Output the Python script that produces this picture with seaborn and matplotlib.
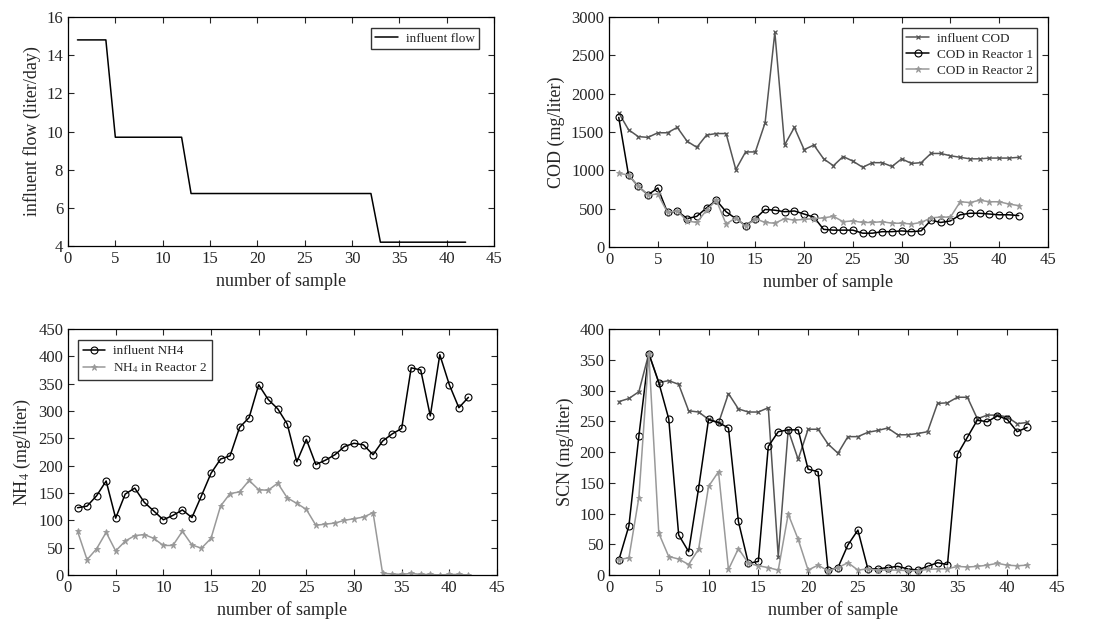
import numpy as np
import pandas as pd
import matplotlib
matplotlib.use('Agg')
import matplotlib.pyplot as plt
import seaborn as sns

sns.set_style('ticks')
plt.rcParams['font.family'] = ['Liberation Serif', 'DejaVu Serif']
plt.rcParams['mathtext.fontset'] = 'stix'

samples = list(range(1, 43))

# influent flow (liter/day)
flow = [14.8] * 4 + [9.7] * 8 + [6.75] * 20 + [4.2] * 10

# COD (mg/liter)
cod_in = [1750, 1530, 1440, 1430, 1490, 1490, 1560, 1380, 1300, 1460,
          1480, 1480, 1010, 1240, 1240, 1620, 2800, 1330, 1560, 1270,
          1330, 1150, 1060, 1180, 1120, 1040, 1100, 1100, 1050, 1150,
          1090, 1100, 1220, 1220, 1190, 1170, 1150, 1150, 1160, 1160,
          1160, 1170]
cod_r1 = [1690, 940, 790, 680, 770, 450, 470, 370, 400, 510,
          610, 460, 370, 280, 370, 490, 480, 460, 470, 430,
          390, 230, 220, 220, 220, 180, 180, 200, 200, 210,
          200, 210, 350, 320, 340, 420, 440, 440, 430, 420,
          420, 410]
cod_r2 = [960, 940, 790, 680, 690, 450, 470, 340, 320, 480,
          610, 300, 380, 270, 370, 320, 310, 370, 350, 360,
          370, 380, 400, 330, 340, 320, 320, 330, 310, 310,
          300, 320, 380, 390, 390, 590, 580, 610, 590, 590,
          560, 540]

# NH4 (mg/liter)
nh4_in = [123, 126, 145, 172, 104, 148, 159, 133, 117, 101,
          109, 119, 105, 145, 186, 212, 218, 270, 288, 348,
          321, 304, 276, 207, 248, 202, 210, 220, 235, 241,
          238, 220, 245, 258, 268, 379, 375, 291, 403, 348,
          306, 325]
nh4_r2 = [80, 28, 48, 78, 44, 62, 72, 74, 67, 54,
          54, 80, 55, 49, 67, 126, 149, 152, 173, 156,
          155, 168, 141, 131, 120, 91, 93, 95, 100, 103,
          106, 114, 3, 2, 1, 3, 1, 1, 0, 1,
          1, 0]

# SCN (mg/liter)
scn_in = [282, 287, 298, 360, 313, 316, 310, 267, 265, 253,
          247, 295, 270, 265, 265, 272, 30, 236, 188, 237,
          237, 213, 198, 225, 225, 232, 235, 239, 228, 228,
          230, 233, 279, 280, 289, 289, 254, 260, 260, 257,
          246, 248]
scn_r1 = [25, 80, 226, 360, 313, 254, 65, 38, 141, 253,
          248, 239, 87, 19, 22, 209, 233, 236, 236, 172,
          168, 8, 12, 49, 73, 10, 10, 12, 14, 10,
          8, 14, 20, 17, 196, 224, 252, 249, 259, 253,
          233, 240]
scn_r2 = [25, 28, 126, 360, 68, 30, 26, 17, 42, 144,
          168, 9, 43, 19, 15, 12, 8, 99, 58, 8,
          16, 7, 12, 20, 8, 10, 8, 8, 8, 7,
          7, 9, 10, 10, 14, 13, 14, 16, 19, 16,
          15, 16]

C_IN = '#555555'
C_R1 = '#000000'
C_R2 = '#999999'

sty_in = dict(color=C_IN, marker='x', markersize=3.5, markeredgewidth=0.9,
              markeredgecolor=C_IN, linewidth=1.1)
sty_r1 = dict(color=C_R1, marker='o', markersize=5, markerfacecolor='none',
              markeredgecolor='black', markeredgewidth=0.8, linewidth=1.1)
sty_r2 = dict(color=C_R2, marker='*', markersize=5, markeredgewidth=0.6,
              markeredgecolor=C_R2, linewidth=1.1)

fig = plt.figure(figsize=(10.96, 6.22), dpi=100)
W, H = 1096, 622


def make_ax(l, t, r, b):
    return fig.add_axes([l / W, 1 - b / H, (r - l) / W, (b - t) / H])


def style(ax, ylim, yticks, ylabel):
    ax.set_xlim(0, 45)
    ax.set_xticks(range(0, 46, 5))
    ax.set_ylim(*ylim)
    ax.set_yticks(yticks)
    ax.set_xlabel('number of sample', fontsize=13)
    ax.set_ylabel(ylabel, fontsize=13)
    ax.tick_params(direction='in', top=True, right=True, labelsize=12,
                   length=4, width=0.8)
    for s in ax.spines.values():
        s.set_linewidth(0.9)
        s.set_color('black')


leg_kw = dict(fontsize=9.5, frameon=True, fancybox=False, edgecolor='black',
              handlelength=1.7, borderpad=0.35, labelspacing=0.3,
              handletextpad=0.6, borderaxespad=0.3)

# top-left: influent flow
ax1 = make_ax(68, 17, 494, 246)
sns.lineplot(x=samples, y=flow, ax=ax1, color='black', linewidth=1.1,
             label='influent flow')
style(ax1, (4, 16), range(4, 17, 2), 'influent flow (liter/day)')
ax1.legend(loc='upper right', bbox_to_anchor=(0.975, 0.97), **leg_kw)

# top-right: COD
ax2 = make_ax(609, 17, 1048, 247)
sns.lineplot(x=samples, y=cod_in, ax=ax2, label='influent COD', **sty_in)
sns.lineplot(x=samples, y=cod_r1, ax=ax2, label='COD in Reactor 1', **sty_r1)
sns.lineplot(x=samples, y=cod_r2, ax=ax2, label='COD in Reactor 2', **sty_r2)
style(ax2, (0, 3000), range(0, 3001, 500), 'COD (mg/liter)')
ax2.legend(loc='upper right', bbox_to_anchor=(0.985, 0.97), **leg_kw)

# bottom-left: NH4
ax3 = make_ax(68, 329, 497, 575)
sns.lineplot(x=samples, y=nh4_in, ax=ax3, label='influent NH4', **sty_r1)
sns.lineplot(x=samples, y=nh4_r2, ax=ax3, label='NH$_4$ in Reactor 2', **sty_r2)
style(ax3, (0, 450), range(0, 451, 50), 'NH$_4$ (mg/liter)')
ax3.legend(loc='upper left', bbox_to_anchor=(0.015, 0.97), **leg_kw)

# bottom-right: SCN
ax4 = make_ax(609, 329, 1057, 575)
sns.lineplot(x=samples, y=scn_in, ax=ax4, **sty_in)
sns.lineplot(x=samples, y=scn_r1, ax=ax4, **sty_r1)
sns.lineplot(x=samples, y=scn_r2, ax=ax4, **sty_r2)
style(ax4, (0, 400), range(0, 401, 50), 'SCN (mg/liter)')
if ax4.get_legend():
    ax4.get_legend().remove()

fig.savefig('out.png', dpi=100)
